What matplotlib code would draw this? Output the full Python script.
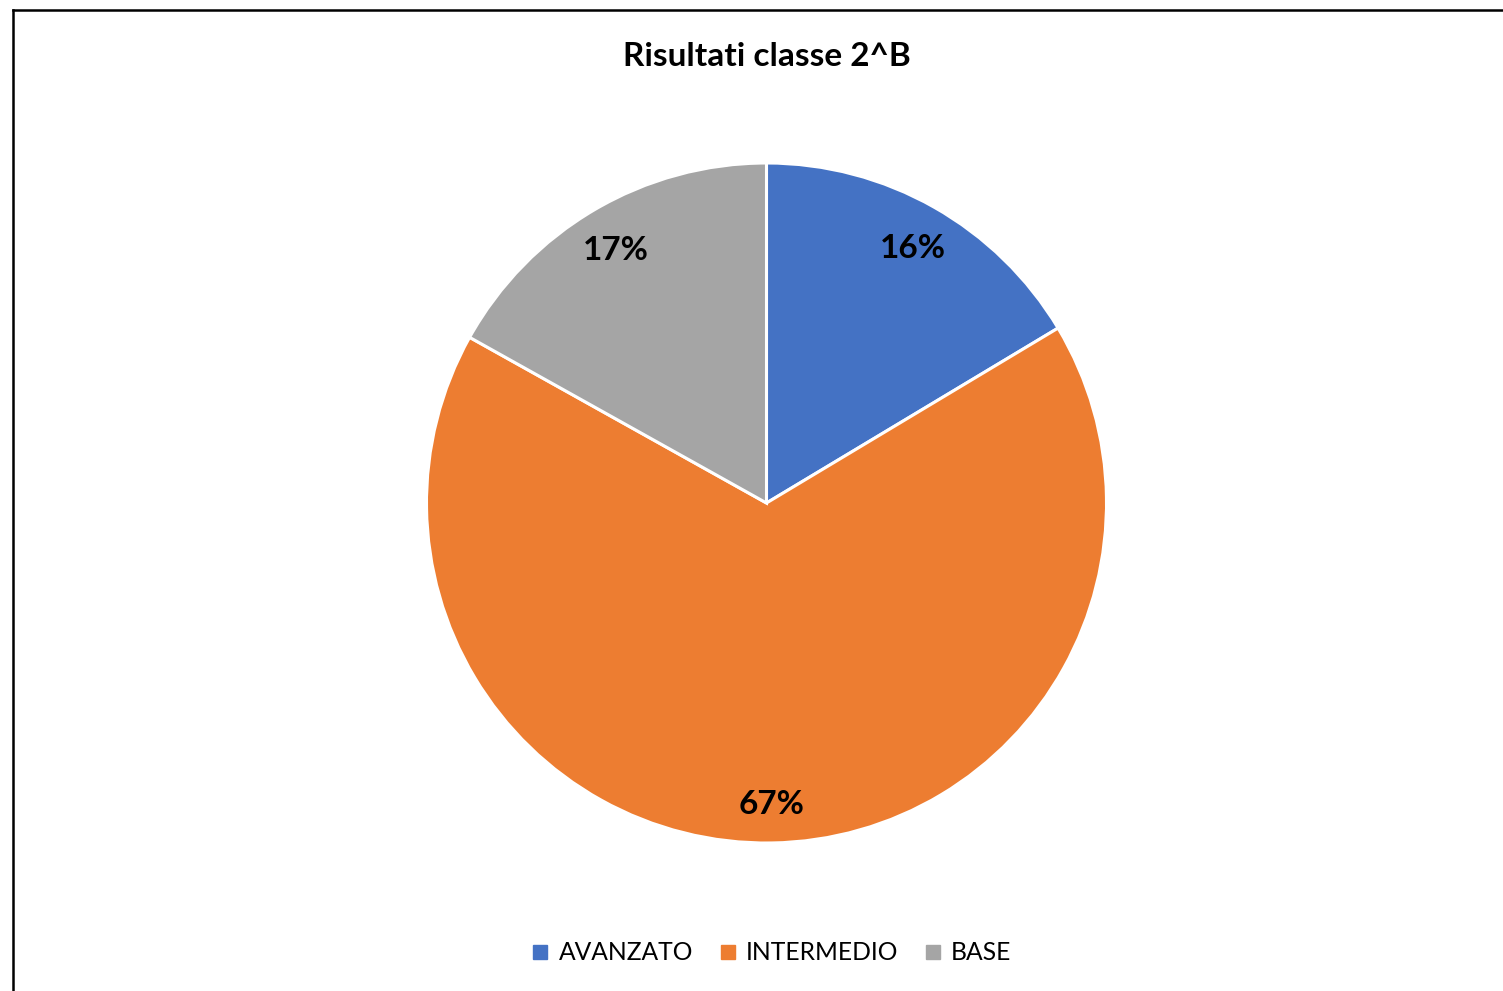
import matplotlib.pyplot as plt
from matplotlib.lines import Line2D
import numpy as np

# data
categories = ['AVANZATO', 'INTERMEDIO', 'BASE']
values = [16.4, 66.7, 16.9]
colors = ['#4472C4', '#ED7D31', '#A5A5A5']
title = 'Risultati classe 2^B'

plt.rcParams['font.family'] = ['Lato', 'DejaVu Sans']

W, H = 1503, 991
fig = plt.figure(figsize=(W / 100, H / 100), dpi=100)

# pie axes in pixel terms
cx, cy, r = 766.5, 503, 340
ax = fig.add_axes([(cx - r) / W, 1 - (cy + r) / H, 2 * r / W, 2 * r / H])
wedges, texts, autotexts = ax.pie(
    values, colors=colors, startangle=90, counterclock=False,
    autopct='%.0f%%', pctdistance=0.875, radius=1.0,
    wedgeprops=dict(edgecolor='white', linewidth=2.2),
    textprops=dict(fontsize=24, fontweight='bold', color='black'))
# nudge the labels a few pixels down, like Excel places them
for t in autotexts:
    x, y = t.get_position()
    t.set_position((x, y - 4 / r))
ax.set_xlim(-1, 1)
ax.set_ylim(-1, 1)
ax.set_aspect('equal')
ax.axis('off')

fig.text(cx / W, 1 - 57 / H, title, ha='center', va='center',
         fontsize=24, fontweight='bold')

# legend
handles = [Line2D([], [], marker='s', linestyle='none', markersize=10,
                  markerfacecolor=c, markeredgecolor=c) for c in colors]
fig.legend(handles, categories, loc='center', bbox_to_anchor=(771 / W, 1 - 953 / H),
           ncol=3, frameon=False, fontsize=17.7, handlelength=0.8, handletextpad=0.35,
           columnspacing=1.0)

# outer frame (left and top edges visible)
fig.add_artist(Line2D([12.5 / W, 12.5 / W], [0, 1 - 10 / H], transform=fig.transFigure,
                      color='black', linewidth=1.8, solid_capstyle='projecting'))
fig.add_artist(Line2D([12.5 / W, 1], [1 - 10 / H, 1 - 10 / H], transform=fig.transFigure,
                      color='black', linewidth=1.8, solid_capstyle='projecting'))

fig.savefig('out.png', dpi=100)
